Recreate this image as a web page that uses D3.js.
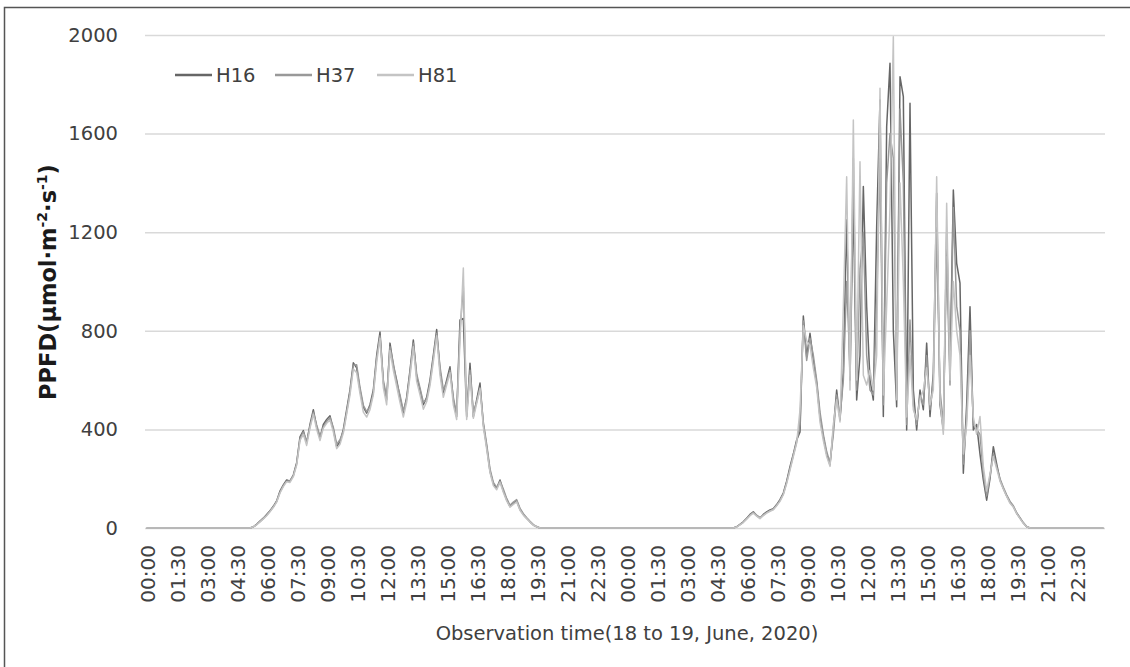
<!DOCTYPE html>
<html>
<head>
<meta charset="utf-8">
<script src="https://cdn.jsdelivr.net/npm/d3@7"></script>
<style>
  body { margin: 0; background: #fff; }
  text { font-family: "DejaVu Sans", sans-serif; }
</style>
</head>
<body>
<div id="chart"></div>
<script>
// 10 minute readings, 18 June 00:00 to 19 June 23:50 (288 points)
var timeLabels = ["00:00","01:30","03:00","04:30","06:00","07:30","09:00","10:30",
                  "12:00","13:30","15:00","16:30","18:00","19:30","21:00","22:30",
                  "00:00","01:30","03:00","04:30","06:00","07:30","09:00","10:30",
                  "12:00","13:30","15:00","16:30","18:00","19:30","21:00","22:30"];
var seriesNames = ["H16", "H37", "H81"];

var h16 = [
  0,0,0,0,0,0,0,0,0,0,0,0,0,0,0,0,0,0,0,0,0,0,0,0,
  0,0,0,0,0,0,0,0,5,15,28,40,55,70,88,110,150,175,195,190,215,265,370,395,
  345,420,480,410,365,420,440,455,400,330,350,400,480,560,670,650,560,490,466,500,560,700,795,590,
  520,750,660,600,530,466,530,640,763,614,560,500,530,600,700,805,640,548,600,654,520,452,844,850,
  452,668,452,520,588,420,330,230,180,160,195,150,115,87,100,110,75,55,40,25,12,5,0,0,
  0,0,0,0,0,0,0,0,0,0,0,0,0,0,0,0,0,0,0,0,0,0,0,0,
  0,0,0,0,0,0,0,0,0,0,0,0,0,0,0,0,0,0,0,0,0,0,0,0,
  0,0,0,0,0,0,0,0,0,5,15,25,40,55,66,50,40,55,65,73,78,95,115,142,
  190,249,300,357,390,860,695,790,680,588,450,370,300,256,400,560,438,629,1250,600,1330,519,700,1385,
  898,600,519,1222,1736,452,1628,1885,800,492,1831,1750,398,1723,560,398,560,480,750,452,629,1358,500,398,
  1200,629,1371,1074,993,222,500,898,398,420,300,195,113,200,330,260,195,160,130,105,87,60,40,20,
  5,0,0,0,0,0,0,0,0,0,0,0,0,0,0,0,0,0,0,0,0,0,0,0
];
var h37 = [
  0,0,0,0,0,0,0,0,0,0,0,0,0,0,0,0,0,0,0,0,0,0,0,0,
  0,0,0,0,0,0,0,0,4,14,26,38,52,68,85,108,145,172,190,192,212,260,362,390,
  350,412,470,418,372,410,432,448,408,340,358,392,470,552,660,662,570,498,472,492,548,690,780,600,
  530,735,668,590,540,475,522,630,750,625,568,510,522,590,690,790,655,560,590,640,530,462,800,980,
  470,640,470,510,570,430,340,240,185,165,190,158,120,92,105,115,80,58,42,27,14,6,0,0,
  0,0,0,0,0,0,0,0,0,0,0,0,0,0,0,0,0,0,0,0,0,0,0,0,
  0,0,0,0,0,0,0,0,0,0,0,0,0,0,0,0,0,0,0,0,0,0,0,0,
  0,0,0,0,0,0,0,0,0,5,14,24,38,52,64,52,42,52,62,70,76,92,112,138,
  185,240,295,350,420,840,680,770,700,600,470,380,310,265,380,540,450,600,1000,650,1500,560,1050,1200,
  700,560,540,900,1500,500,1400,1600,1500,560,1700,1400,420,844,500,420,540,500,700,480,600,1200,560,420,
  1100,580,1300,900,800,260,450,800,420,400,380,220,130,210,300,250,200,165,135,108,90,62,42,22,
  6,0,0,0,0,0,0,0,0,0,0,0,0,0,0,0,0,0,0,0,0,0,0,0
];
var h81 = [
  0,0,0,0,0,0,0,0,0,0,0,0,0,0,0,0,0,0,0,0,0,0,0,0,
  0,0,0,0,0,0,0,0,5,13,25,37,50,66,84,105,142,168,188,185,208,255,355,380,
  335,405,462,400,355,405,425,438,390,322,340,385,462,540,645,630,545,470,450,480,540,672,770,570,
  500,720,640,575,510,450,510,615,735,595,540,482,512,578,675,780,620,530,580,630,500,440,760,1055,
  440,620,445,505,565,410,320,225,172,155,185,145,110,85,96,106,72,52,38,24,11,5,0,0,
  0,0,0,0,0,0,0,0,0,0,0,0,0,0,0,0,0,0,0,0,0,0,0,0,
  0,0,0,0,0,0,0,0,0,0,0,0,0,0,0,0,0,0,0,0,0,0,0,0,
  0,0,0,0,0,0,0,0,0,4,13,22,36,50,60,48,38,50,60,68,74,90,108,135,
  180,235,290,345,479,820,760,740,650,570,430,355,290,250,420,520,430,898,1425,560,1655,600,1486,620,
  580,640,560,700,1784,540,900,1300,1993,520,1400,1000,450,700,480,440,520,560,650,500,560,1425,520,380,
  1317,600,1000,800,700,300,420,700,450,380,452,250,150,220,290,240,190,158,128,100,85,58,38,19,
  5,0,0,0,0,0,0,0,0,0,0,0,0,0,0,0,0,0,0,0,0,0,0,0
];
var yTicks = [0, 400, 800, 1200, 1600, 2000];

var width = 1130, height = 667;
var plot = { left: 145, right: 1105, top: 35, bottom: 528 };
var colors = d3.scaleOrdinal(seriesNames, ["#666666", "#999999", "#c4c4c4"]);
var allSeries = [h16, h37, h81];
var textColor = "#404040";

var svg = d3.select("#chart").append("svg")
    .attr("width", width)
    .attr("height", height);

// outer frame (left and top edges only)
svg.append("path")
    .attr("d", "M4.5,667V7.5H1130")
    .attr("fill", "none")
    .attr("stroke", "#555")
    .attr("stroke-width", 1.5);

var x = d3.scaleBand()
    .domain(d3.range(h16.length))
    .range([plot.left, plot.right]);

var y = d3.scaleLinear()
    .domain([0, 2000])
    .range([plot.bottom, plot.top]);

// gridlines
svg.append("g")
    .attr("transform", "translate(" + plot.left + ",0)")
    .call(d3.axisLeft(y).tickValues(yTicks).tickSize(-(plot.right - plot.left)).tickFormat(""))
    .call(function (g) { g.select(".domain").remove(); })
    .selectAll("line")
    .attr("stroke", "#d9d9d9")
    .attr("stroke-width", 1.5);

// y axis labels
svg.append("g")
    .attr("transform", "translate(" + plot.left + ",0)")
    .call(d3.axisLeft(y).tickValues(yTicks).tickSize(0).tickPadding(27).tickFormat(d3.format("d")))
    .call(function (g) { g.select(".domain").remove(); })
    .selectAll("text")
    .attr("font-size", 19.5)
    .attr("font-family", "DejaVu Sans")
    .attr("fill", textColor);

// x axis labels, every 9th point (1.5 h)
var labelIdx = d3.range(0, h16.length, 9);
var xAxis = d3.axisBottom(d3.scaleLinear().domain([0, h16.length]).range([plot.left, plot.right]))
    .tickValues(labelIdx.map(function (i) { return i + 0.5; }))
    .tickFormat(function (d, k) { return timeLabels[k]; })
    .tickSize(0);

svg.append("g")
    .attr("transform", "translate(0," + plot.bottom + ")")
    .call(xAxis)
    .call(function (g) { g.select(".domain").remove(); })
    .selectAll("text")
    .attr("font-size", 20)
    .attr("font-family", "DejaVu Sans")
    .attr("fill", textColor)
    .attr("text-anchor", "end")
    .attr("transform", "translate(1,17) rotate(-90)")
    .attr("x", 0)
    .attr("y", 0)
    .attr("dy", "0.36em");

// series lines
var line = d3.line()
    .x(function (d, i) { return x(i) + x.bandwidth() / 2; })
    .y(function (d) { return y(d); });

svg.append("g")
    .selectAll("path")
    .data(allSeries)
    .enter()
    .append("path")
    .attr("d", line)
    .attr("fill", "none")
    .attr("stroke", function (d, i) { return colors(seriesNames[i]); })
    .attr("stroke-width", 1.5)
    .attr("stroke-linejoin", "round");

// legend
var legendX = [175, 275, 377];
var legend = svg.append("g").selectAll("g")
    .data(seriesNames)
    .enter()
    .append("g")
    .attr("transform", function (d, i) { return "translate(" + legendX[i] + ",75)"; });

legend.append("line")
    .attr("x1", 0).attr("x2", 37)
    .attr("stroke", function (d) { return colors(d); })
    .attr("stroke-width", 2.5);

legend.append("text")
    .attr("x", 41)
    .attr("dy", "0.36em")
    .attr("font-size", 19.5)
    .attr("fill", textColor)
    .text(function (d) { return d; });

// axis titles
svg.append("text")
    .attr("x", 627)
    .attr("y", 640)
    .attr("text-anchor", "middle")
    .attr("font-size", 19.5)
    .attr("fill", textColor)
    .text("Observation time(18 to 19, June, 2020)");

var yTitle = svg.append("text")
    .attr("transform", "translate(56,282) rotate(-90)")
    .attr("text-anchor", "middle")
    .attr("font-size", 22.5)
    .attr("font-weight", "bold")
    .attr("fill", "#1a1a1a");
yTitle.append("tspan").text("PPFD(μmol·m");
yTitle.append("tspan").attr("dy", -9).attr("font-size", 14).text("-2");
yTitle.append("tspan").attr("dy", 9).text("·s");
yTitle.append("tspan").attr("dy", -9).attr("font-size", 14).text("-1");
yTitle.append("tspan").attr("dy", 9).text(")");
</script>
</body>
</html>
